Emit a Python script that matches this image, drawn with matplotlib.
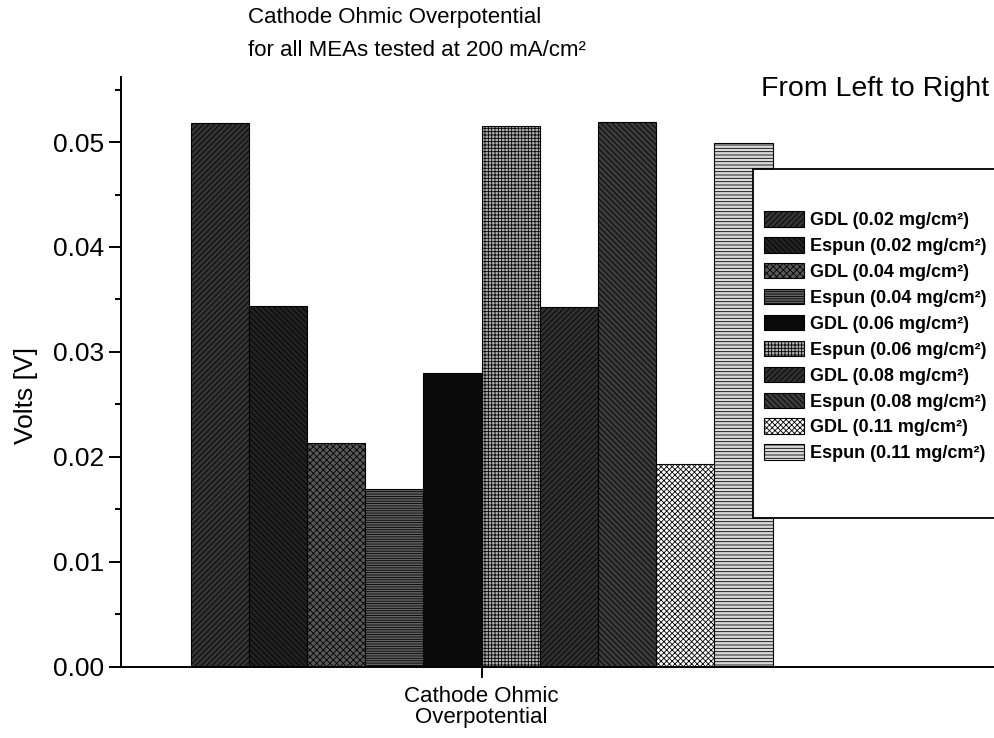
import matplotlib
matplotlib.use("Agg")
import matplotlib.pyplot as plt
from matplotlib.patches import Rectangle
from matplotlib.ticker import MultipleLocator, FormatStrFormatter

plt.rcParams['font.family'] = ['Liberation Sans', 'DejaVu Sans']
plt.rcParams['hatch.linewidth'] = 0.6

# ---- data ----
category = 'Cathode Ohmic\nOverpotential'
series_labels = [
    'GDL (0.02 mg/cm²)',
    'Espun (0.02 mg/cm²)',
    'GDL (0.04 mg/cm²)',
    'Espun (0.04 mg/cm²)',
    'GDL (0.06 mg/cm²)',
    'Espun (0.06 mg/cm²)',
    'GDL (0.08 mg/cm²)',
    'Espun (0.08 mg/cm²)',
    'GDL (0.11 mg/cm²)',
    'Espun (0.11 mg/cm²)',
]
volts = [0.0518, 0.0344, 0.0213, 0.0169, 0.0280, 0.0515, 0.0343, 0.0519, 0.0193, 0.0499]
yticks = [0.00, 0.01, 0.02, 0.03, 0.04, 0.05]

# ---- styles (grey-scale patterns) ----
faces = ['#343434', '#222222', '#585858', '#636363', '#0a0a0a',
         '#b0b0b0', '#303030', '#3c3c3c', '#ffffff', '#dadada']
hatches = ['//////', '\\\\\\\\\\\\', 'xxxxx', '-------', '',
           '+++++', '//////', '\\\\\\\\\\\\', 'xxxxxx', '-----']

W, H = 994, 738
fig = plt.figure(figsize=(W / 100, H / 100), dpi=100)

x0_px, y0_px, ytop_px, group_c_px, bar_w_px = 121, 666.7, 77, 481.5, 58.2
ax = fig.add_axes([x0_px / W, 1 - y0_px / H, 1 - x0_px / W, (y0_px - ytop_px) / H])

n = len(volts)
bw = 0.1
for i in range(n):
    ax.bar((i - (n - 1) / 2) * bw, volts[i], width=bw, color=faces[i],
           edgecolor='black', hatch=hatches[i], linewidth=0.8,
           label=series_labels[i], zorder=2)

unit = bw / bar_w_px  # data units per pixel
ax.set_xlim((x0_px - group_c_px) * unit, (W - group_c_px) * unit)
ax.set_ylim(0, 0.0562)

ax.set_xticks([0])
ax.set_xticklabels([category], fontsize=16, linespacing=1.0)
ax.set_yticks(yticks)
ax.yaxis.set_major_formatter(FormatStrFormatter('%.2f'))
ax.yaxis.set_minor_locator(MultipleLocator(0.005))

for s in ('top', 'right'):
    ax.spines[s].set_visible(False)
for s in ('left', 'bottom'):
    ax.spines[s].set_linewidth(1.4)

ax.tick_params(axis='y', which='major', direction='out', length=9, width=1.4,
               labelsize=19, pad=3)
ax.tick_params(axis='y', which='minor', direction='out', length=4.5, width=1.4)
ax.tick_params(axis='x', which='major', direction='out', length=8, width=1.4, pad=6)

ax.set_ylabel('Volts [V]', fontsize=19)
ax.yaxis.set_label_coords(-0.095, 0.46)

fig.text(248 / W, 1 - 17 / H, 'Cathode Ohmic Overpotential', fontsize=16,
         ha='left', va='center')
fig.text(248 / W, 1 - 50 / H, 'for all MEAs tested at 200 mA/cm²', fontsize=16,
         ha='left', va='center')
fig.text(989 / W, 1 - 89 / H, 'From Left to Right', fontsize=20.5,
         ha='right', va='center')

# legend box (extends past the right border)
frame = Rectangle((753 / W, 1 - 518 / H), 0.3, (518 - 169) / H,
                  transform=fig.transFigure, facecolor='white',
                  edgecolor='black', linewidth=1.3, zorder=3)
fig.add_artist(frame)

handles, labels = ax.get_legend_handles_labels()
leg = fig.legend(handles, labels, loc='upper left',
                 bbox_to_anchor=(764 / W, 1 - 211 / H), frameon=False,
                 prop={'weight': 'bold', 'size': 13}, handlelength=2.2,
                 handleheight=0.95, handletextpad=0.35, labelspacing=0.44,
                 borderpad=0, borderaxespad=0)
leg.set_zorder(5)

fig.savefig('out.png', dpi=100)
